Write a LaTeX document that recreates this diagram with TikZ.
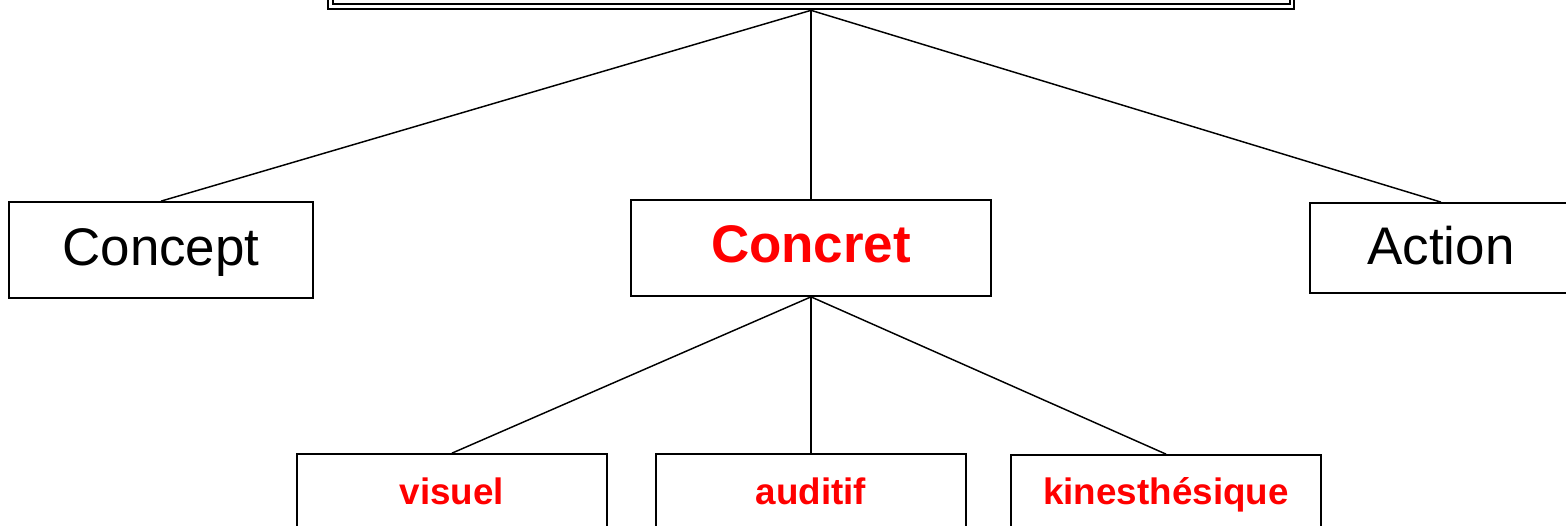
\documentclass[tikz,border=0pt]{standalone}
\usepackage{fontspec}
\setmainfont{Liberation Sans}
\begin{document}
\begin{tikzpicture}[x=0.75pt,y=-0.75pt,
  box/.style={draw,line width=1.3pt,inner sep=0pt,fill=white},
  big/.style={font=\fontsize{39.7}{44}\selectfont},
  small/.style={font=\fontsize{27.6}{32}\selectfont\bfseries,text=red},
  link/.style={line width=1.1pt}]
\useasboundingbox (0,0) rectangle (1566,525);
\clip (0,0) rectangle (1566,525);
% top box (cut off)
\node[draw,line width=2pt,minimum width=966*0.75pt,minimum height=70*0.75pt,inner sep=0pt] (top) at (811,-26) {};
\draw[line width=1.2pt] (333,-60) rectangle (1290,4);
% level 2
\node[box,minimum width=304*0.75pt,minimum height=96*0.75pt] (concept) at (161,250) {};
\node[big] (concepttext) at (161,253) {Concept};
\node[box,minimum width=360*0.75pt,minimum height=96*0.75pt] (concret) at (811,248) {};
\node[big,text=red,font=\fontsize{39.7}{44}\selectfont\bfseries] (concrettext) at (811,244) {Concret};
\node[box,minimum width=262*0.75pt,minimum height=90*0.75pt] (action) at (1441,248) {};
\node[big] (actiontext) at (1441,246) {Action};
% level 3
\node[box,minimum width=310*0.75pt,minimum height=76*0.75pt] (visuel) at (452,492) {};
\node[small] (visueltext) at (452,491) {visuel};
\node[box,minimum width=310*0.75pt,minimum height=76*0.75pt] (auditif) at (811,492) {};
\node[small] (auditiftext) at (811,491) {auditif};
\node[box,minimum width=310*0.75pt,minimum height=76*0.75pt] (kines) at (1166,493) {};
\node[small] (kinestext) at (1166,495) {kinesthésique};
% connectors
\draw[link] (top.south) -- (concept.north);
\draw[link] (top.south) -- (concret.north);
\draw[link] (top.south) -- (action.north);
\draw[link] (concret.south) -- (visuel.north);
\draw[link] (concret.south) -- (auditif.north);
\draw[link] (concret.south) -- (kines.north);
\end{tikzpicture}
\end{document}
